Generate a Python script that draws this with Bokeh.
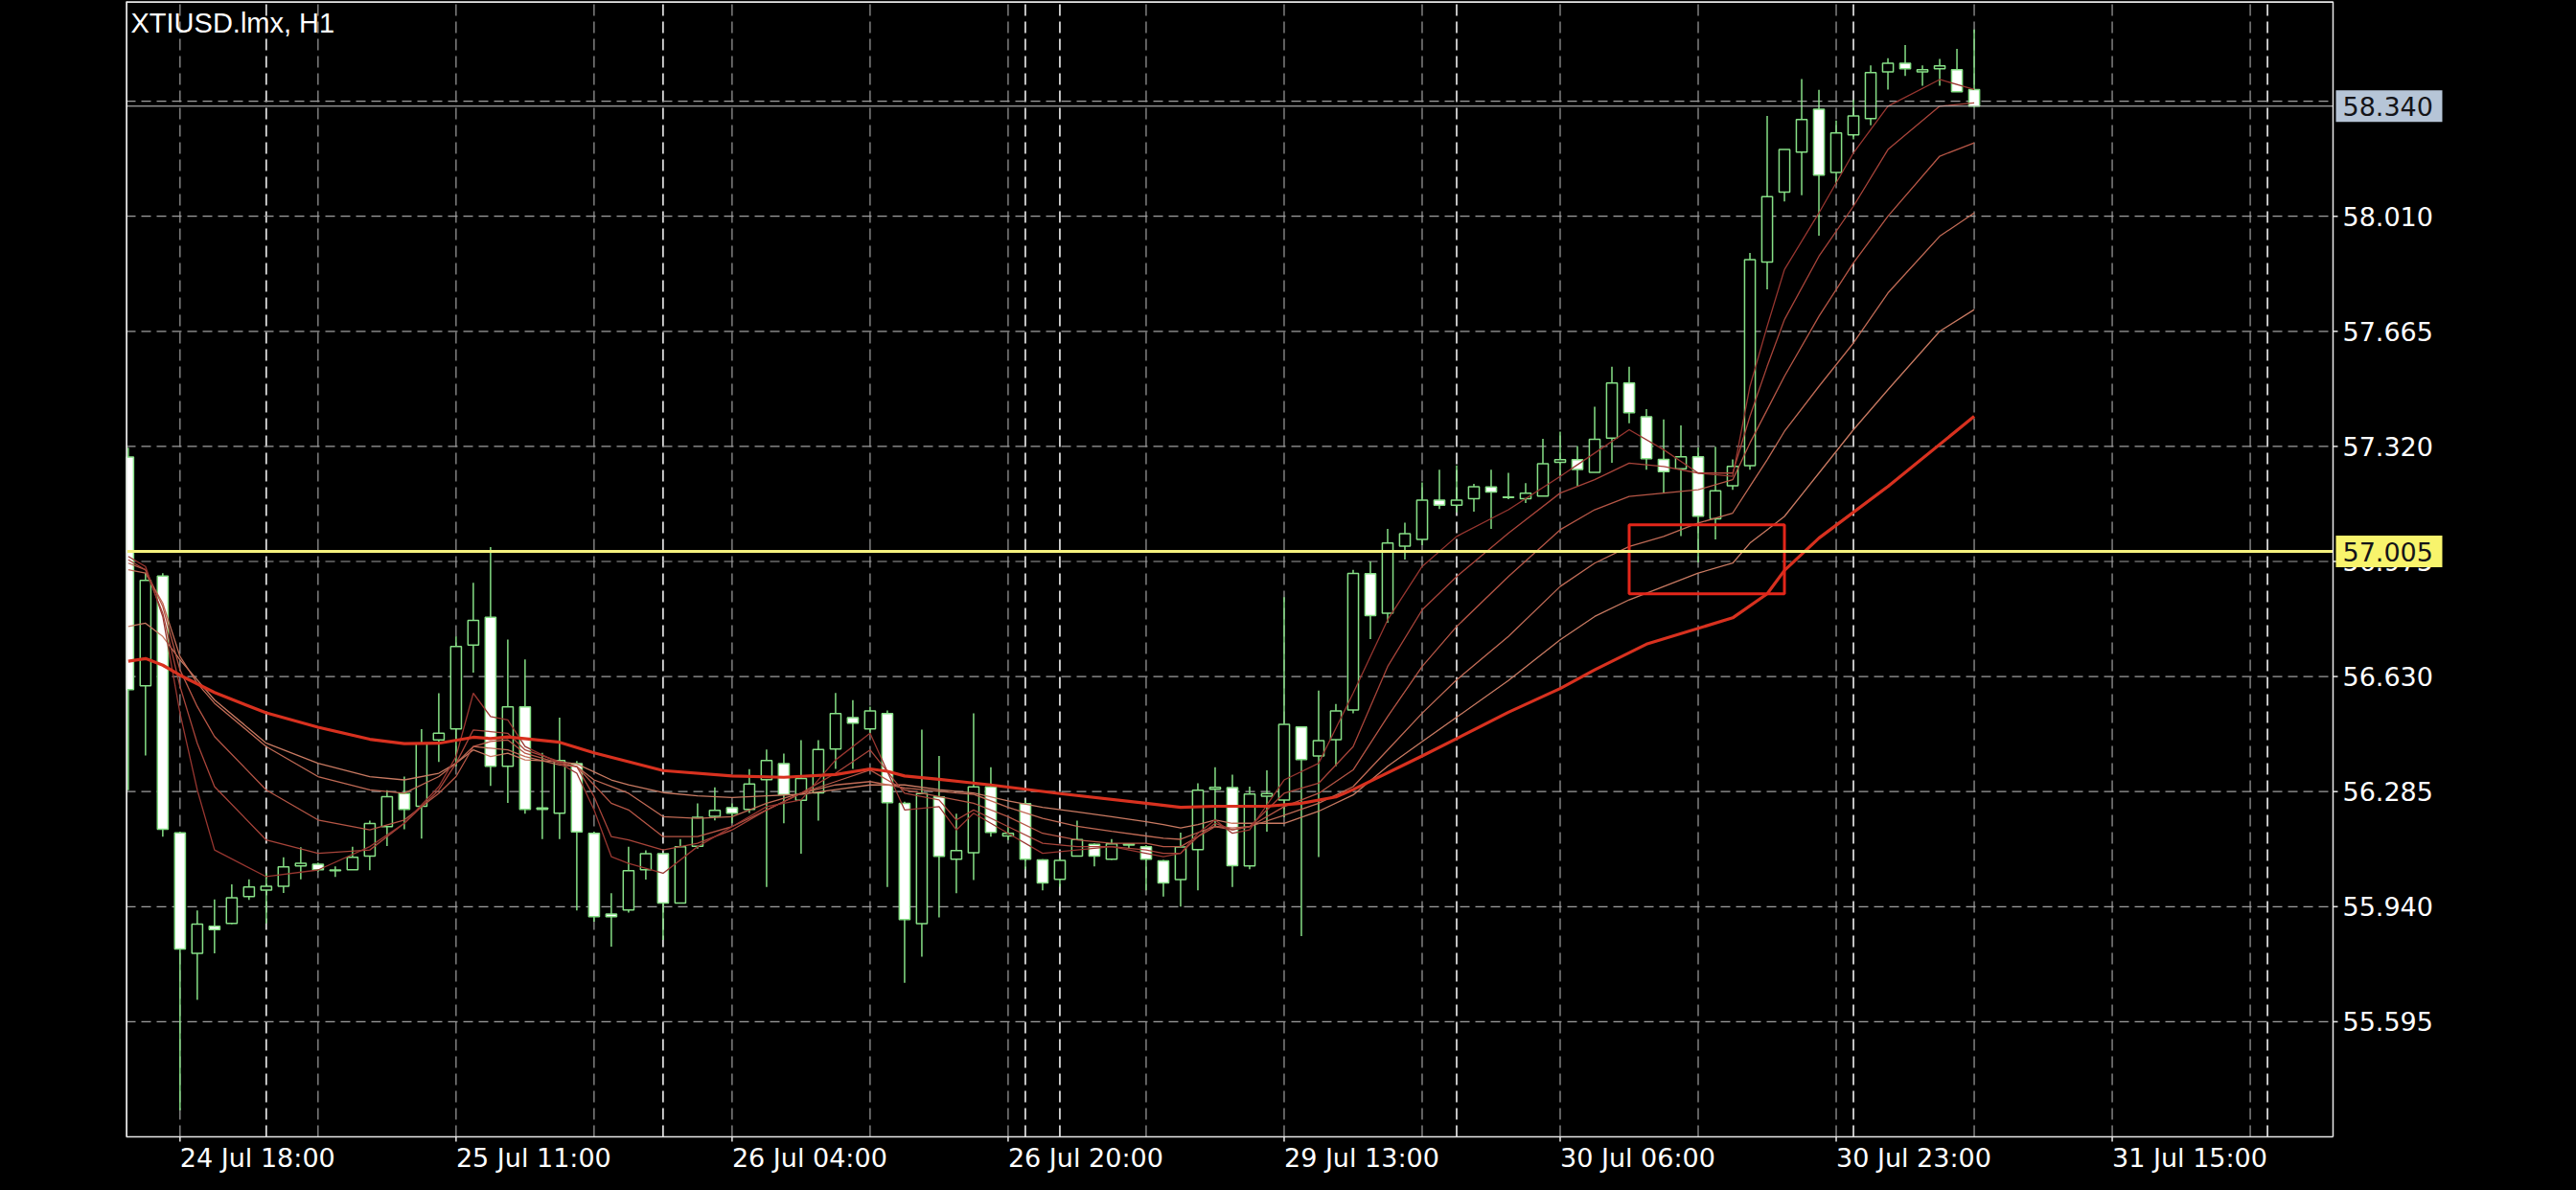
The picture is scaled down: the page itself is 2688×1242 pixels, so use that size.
from bokeh.plotting import figure
from bokeh.models import Range1d, Label
from bokeh.embed import file_html
from bokeh.resources import INLINE
from bokeh.core.properties import value

# ---------------- data ----------------
title_text = "XTIUSD.lmx, H1"

bar = list(range(108))
opens = [57.288, 56.602, 56.931, 56.161, 55.800, 55.881, 55.890, 55.970, 55.990, 56.001,
         56.062, 56.067, 56.048, 56.051, 56.092, 56.180, 56.279, 56.241, 56.440, 56.473,
         56.724, 56.808, 56.361, 56.539, 56.232, 56.220, 56.369, 56.160, 55.918, 55.930,
         56.051, 56.099, 55.951, 56.121, 56.211, 56.237, 56.232, 56.321, 56.369, 56.259,
         56.281, 56.413, 56.507, 56.473, 56.519, 56.250, 55.889, 56.269, 56.082, 56.102,
         56.299, 56.152, 56.249, 56.080, 56.022, 56.092, 56.127, 56.082, 56.125, 56.120,
         56.077, 56.021, 56.111, 56.292, 56.297, 56.062, 56.271, 56.260, 56.479, 56.392,
         56.441, 56.530, 56.938, 56.820, 57.021, 57.041, 57.159, 57.144, 57.163, 57.198,
         57.167, 57.163, 57.171, 57.272, 57.280, 57.242, 57.345, 57.510, 57.409, 57.281,
         57.253, 57.289, 57.103, 57.202, 57.262, 57.873, 58.082, 58.202, 58.331, 58.141,
         58.254, 58.303, 58.443, 58.469, 58.443, 58.452, 58.449, 58.390]
highs = [57.316, 56.940, 56.940, 56.165, 55.929, 55.962, 56.007, 56.022, 56.040, 56.088,
         56.118, 56.072, 56.061, 56.120, 56.198, 56.289, 56.330, 56.472, 56.580, 56.750,
         56.911, 57.018, 56.741, 56.681, 56.401, 56.507, 56.377, 56.165, 55.980, 56.120,
         56.109, 56.100, 56.143, 56.250, 56.298, 56.250, 56.352, 56.411, 56.399, 56.439,
         56.439, 56.581, 56.559, 56.540, 56.528, 56.255, 56.471, 56.392, 56.219, 56.520,
         56.358, 56.180, 56.260, 56.082, 56.085, 56.198, 56.130, 56.143, 56.130, 56.125,
         56.080, 56.162, 56.310, 56.358, 56.336, 56.300, 56.349, 56.868, 56.480, 56.588,
         56.548, 56.950, 56.975, 57.073, 57.091, 57.212, 57.250, 57.263, 57.208, 57.250,
         57.241, 57.210, 57.343, 57.364, 57.321, 57.439, 57.559, 57.559, 57.432, 57.401,
         57.383, 57.317, 57.319, 57.281, 57.900, 58.311, 58.210, 58.421, 58.389, 58.297,
         58.359, 58.462, 58.484, 58.523, 58.462, 58.482, 58.512, 58.570]
lows = [56.289, 56.393, 56.150, 55.330, 55.661, 55.800, 55.888, 55.960, 55.890, 55.981,
        56.022, 56.045, 56.029, 56.050, 56.049, 56.122, 56.172, 56.144, 56.374, 56.361,
        56.642, 56.302, 56.251, 56.219, 56.143, 56.143, 55.929, 55.895, 55.820, 55.922,
        56.021, 55.840, 55.951, 56.114, 56.199, 56.190, 56.221, 55.999, 56.190, 56.099,
        56.198, 56.353, 56.353, 56.460, 55.999, 55.712, 55.790, 55.908, 55.980, 56.020,
        56.150, 56.140, 56.052, 55.989, 56.000, 56.090, 56.061, 56.080, 56.114, 55.989,
        55.970, 55.940, 55.989, 56.181, 55.999, 56.052, 56.165, 56.208, 55.852, 56.089,
        56.361, 56.520, 56.742, 56.791, 56.981, 57.024, 57.132, 57.122, 57.124, 57.073,
        57.162, 57.150, 57.171, 57.232, 57.202, 57.242, 57.271, 57.389, 57.250, 57.181,
        57.051, 56.972, 57.041, 57.190, 57.250, 57.791, 58.054, 58.073, 57.952, 58.106,
        58.240, 58.283, 58.390, 58.431, 58.401, 58.401, 58.383, 58.335]
closes = [56.591, 56.918, 56.172, 55.813, 55.888, 55.871, 55.967, 55.999, 56.001, 56.059,
          56.070, 56.051, 56.050, 56.088, 56.189, 56.270, 56.232, 56.429, 56.460, 56.720,
          56.798, 56.361, 56.539, 56.232, 56.236, 56.378, 56.164, 55.910, 55.910, 56.048,
          56.099, 55.951, 56.120, 56.208, 56.229, 56.220, 56.308, 56.378, 56.276, 56.324,
          56.411, 56.519, 56.490, 56.527, 56.252, 55.901, 56.279, 56.091, 56.108, 56.299,
          56.163, 56.160, 56.082, 56.011, 56.079, 56.141, 56.092, 56.128, 56.128, 56.082,
          56.011, 56.119, 56.289, 56.298, 56.063, 56.278, 56.279, 56.487, 56.381, 56.438,
          56.527, 56.939, 56.813, 57.030, 57.058, 57.159, 57.144, 57.159, 57.199, 57.183,
          57.168, 57.180, 57.268, 57.280, 57.251, 57.341, 57.510, 57.421, 57.283, 57.244,
          57.289, 57.111, 57.187, 57.260, 57.880, 58.069, 58.210, 58.300, 58.133, 58.260,
          58.311, 58.441, 58.469, 58.452, 58.449, 58.461, 58.383, 58.340]

# moving-average lines (bar index, price)
ma_bars = [0, 1, 2, 3, 4, 5, 8, 11, 14, 16, 18, 19, 20, 21, 22, 23, 25, 26, 27, 28, 29,
           31, 33, 35, 37, 39, 41, 43, 45, 47, 48, 49, 51, 53, 55, 57, 59, 60, 61, 62, 63,
           64, 65, 67, 69, 71, 73, 75, 77, 80, 83, 85, 87, 89, 91, 93, 94, 95, 96, 98, 100,
           102, 105, 107]
ma_a = [56.99, 56.96, 56.81, 56.52, 56.29, 56.11, 56.03, 56.05, 56.12, 56.19, 56.30, 56.39,
        56.58, 56.51, 56.50, 56.42, 56.37, 56.34, 56.23, 56.09, 56.07, 56.04, 56.12, 56.18,
        56.24, 56.26, 56.38, 56.46, 56.23, 56.24, 56.17, 56.22, 56.16, 56.10, 56.11, 56.12,
        56.10, 56.09, 56.10, 56.16, 56.20, 56.16, 56.17, 56.32, 56.37, 56.58, 56.80, 56.96,
        57.05, 57.13, 57.23, 57.30, 57.37, 57.31, 57.24, 57.23, 57.50, 57.68, 57.85, 58.02,
        58.20, 58.34, 58.42, 58.39]
ma_b = [56.98, 56.95, 56.82, 56.60, 56.43, 56.30, 56.14, 56.10, 56.11, 56.19, 56.29, 56.37,
        56.47, 56.465, 56.46, 56.41, 56.375, 56.36, 56.27, 56.15, 56.14, 56.11, 56.13, 56.17,
        56.23, 56.28, 56.34, 56.41, 56.28, 56.26, 56.20, 56.23, 56.18, 56.13, 56.12, 56.12,
        56.11, 56.10, 56.10, 56.15, 56.19, 56.17, 56.18, 56.28, 56.31, 56.42, 56.66, 56.83,
        56.93, 57.06, 57.18, 57.22, 57.27, 57.26, 57.24, 57.24, 57.41, 57.56, 57.70, 57.89,
        58.04, 58.21, 58.34, 58.35]
ma_c = [56.97, 56.95, 56.84, 56.65, 56.54, 56.45, 56.29, 56.20, 56.17, 56.20, 56.28, 56.33,
        56.42, 56.435, 56.44, 56.40, 56.37, 56.36, 56.305, 56.25, 56.23, 56.15, 56.15, 56.18,
        56.23, 56.28, 56.315, 56.35, 56.29, 56.27, 56.26, 56.25, 56.21, 56.16, 56.14, 56.13,
        56.13, 56.12, 56.12, 56.15, 56.18, 56.17, 56.18, 56.24, 56.28, 56.35, 56.51, 56.66,
        56.78, 56.93, 57.07, 57.13, 57.17, 57.18, 57.19, 57.22, 57.33, 57.43, 57.53, 57.71,
        57.87, 58.01, 58.19, 58.23]
ma_d = [56.95, 56.94, 56.85, 56.69, 56.61, 56.55, 56.42, 56.33, 56.29, 56.28, 56.33, 56.37,
        56.42, 56.415, 56.41, 56.39, 56.365, 56.36, 56.32, 56.30, 56.28, 56.21, 56.205, 56.21,
        56.25, 56.28, 56.305, 56.315, 56.296, 56.286, 56.281, 56.277, 56.238, 56.205, 56.181,
        56.166, 56.152, 56.145, 56.142, 56.162, 56.181, 56.176, 56.18, 56.214, 56.25, 56.30,
        56.41, 56.52, 56.62, 56.75, 56.90, 56.97, 57.02, 57.05, 57.09, 57.12, 57.20, 57.28,
        57.365, 57.50, 57.63, 57.78, 57.95, 58.02]
ma_e = [56.78, 56.79, 56.75, 56.68, 56.62, 56.56, 56.43, 56.37, 56.33, 56.32, 56.34, 56.37,
        56.41, 56.39, 56.40, 56.38, 56.375, 56.368, 56.344, 56.32, 56.305, 56.282, 56.272,
        56.267, 56.272, 56.277, 56.291, 56.305, 56.305, 56.291, 56.286, 56.281, 56.257,
        56.238, 56.224, 56.21, 56.195, 56.186, 56.176, 56.186, 56.20, 56.19, 56.19, 56.19,
        56.226, 56.275, 56.361, 56.435, 56.508, 56.618, 56.74, 56.81, 56.86, 56.90, 56.94,
        56.97, 57.03, 57.07, 57.11, 57.24, 57.37, 57.49, 57.665, 57.73]
ma_slow_bars = [0, 1, 2, 3, 5, 8, 11, 14, 16, 18, 20, 21, 22, 25, 27, 31, 35, 38, 41, 43,
                44, 45, 47, 50, 54, 59, 61, 63, 66, 68, 70, 71, 75, 77, 80, 83, 85, 88, 93,
                95, 96, 98, 102, 107]
ma_slow = [56.676, 56.684, 56.664, 56.634, 56.582, 56.521, 56.478, 56.442, 56.429, 56.43,
           56.448, 56.444, 56.449, 56.433, 56.401, 56.348, 56.332, 56.328, 56.336, 56.353,
           56.346, 56.332, 56.322, 56.305, 56.279, 56.25, 56.238, 56.241, 56.241, 56.25,
           56.269, 56.291, 56.392, 56.444, 56.523, 56.594, 56.65, 56.727, 56.806, 56.878,
           56.948, 57.045, 57.20, 57.41]

tick_bars = [3, 19, 35, 51, 67, 83, 99, 115]
tick_labels = ["24 Jul 18:00", "25 Jul 11:00", "26 Jul 04:00", "26 Jul 20:00",
               "29 Jul 13:00", "30 Jul 06:00", "30 Jul 23:00", "31 Jul 15:00"]
grid_bars = [3, 11, 19, 27, 35, 43, 51, 59, 67, 75, 83, 91, 99, 107, 115, 123]
separator_bars = [8, 31, 52, 54, 77, 100, 124]
price_ticks = [55.595, 55.940, 56.285, 56.630, 56.975, 57.320, 57.665, 58.010]
price_tick_labels = ["55.595", "55.940", "56.285", "56.630", "56.975", "57.320",
                     "57.665", "58.010"]
grid_prices = [55.595, 55.940, 56.285, 56.630, 56.975, 57.320, 57.665, 58.010, 58.355]
bid_price = 58.340
level_price = 57.005
rect_bars = [87.0, 96.0]
rect_prices = [56.878, 57.085]

# ---------------- geometry ----------------
# chart pane: bars x_start..x_chart_end, prices y_chart_start..y_end;
# the price scale (right) and time scale (below) are drawn in the rest of the frame
PX = 18.0                                   # pixels per bar
x_start, x_chart_end = -0.13, 127.8
x_end = x_chart_end + 238.0 / PX
y_chart_start, y_end = 55.250, 58.654
PY = (y_end - y_chart_start) / 1185.0       # price per pixel
y_start = y_chart_start - 40 * PY

GREEN = "#86E086"
FONT = "DejaVu Sans"
BORDER = "#e8e8e8"

p = figure(width=2672, height=1226, output_backend="svg", toolbar_location=None,
           x_range=Range1d(x_start, x_end), y_range=Range1d(y_start, y_end),
           x_axis_location=None, y_axis_location=None,
           min_border_left=131, min_border_right=0, min_border_top=1, min_border_bottom=0)
p.background_fill_color = "black"
p.border_fill_color = "black"
p.outline_line_color = None
p.xgrid.grid_line_color = None
p.ygrid.grid_line_color = None

# vertical grid (chart pane only)
n = len(grid_bars)
p.segment(x0=grid_bars, y0=[y_chart_start] * n, x1=grid_bars, y1=[y_end] * n,
          line_color="#a0a0a0", line_dash="12 6", line_width=1.2)
m = len(separator_bars)
p.segment(x0=separator_bars, y0=[y_chart_start] * m, x1=separator_bars, y1=[y_end] * m,
          line_color="#f0f0f0", line_dash="12 6", line_width=1.6)

# horizontal grid (chart pane only)
g = len(grid_prices)
p.segment(x0=[x_start] * g, y0=grid_prices, x1=[x_chart_end] * g, y1=grid_prices,
          line_color="#a0a0a0", line_dash="10 6", line_width=1.2)

# candles
up = [c >= o for o, c in zip(opens, closes)]
body_top = [max(o, c) for o, c in zip(opens, closes)]
body_bot = [min(o, c) for o, c in zip(opens, closes)]
fills = ["black" if u else "white" for u in up]
p.segment(x0=bar, y0=lows, x1=bar, y1=highs, line_color=GREEN, line_width=1.5)
p.vbar(x=bar, top=body_top, bottom=body_bot, width=0.62, fill_color=fills,
       line_color=GREEN, line_width=1.5)

# moving averages
for vals, col in ((ma_e, "#C97A62"), (ma_d, "#C06A55"), (ma_c, "#B65646"),
                  (ma_b, "#A8443A"), (ma_a, "#983630")):
    p.line(ma_bars, vals, line_color=col, line_width=1.3)
p.line(ma_slow_bars, ma_slow, line_color="#D8311F", line_width=3.2)

# user rectangle
p.quad(left=[rect_bars[0]], right=[rect_bars[1]], bottom=[rect_prices[0]],
       top=[rect_prices[1]], fill_alpha=0, line_color="#E3261A", line_width=3)

# horizontal levels
p.segment(x0=[x_start], y0=[bid_price], x1=[x_chart_end], y1=[bid_price],
          line_color="#cfcfcf", line_width=1)
p.segment(x0=[x_start], y0=[level_price], x1=[x_chart_end], y1=[level_price],
          line_color="#F6F27E", line_width=3)

# chart pane border
p.segment(x0=[x_start, x_start, x_start, x_chart_end],
          y0=[y_chart_start, y_end, y_chart_start, y_chart_start],
          x1=[x_chart_end, x_chart_end, x_start, x_chart_end],
          y1=[y_chart_start, y_end, y_end, y_end],
          line_color=BORDER, line_width=1.5)
p.segment(x0=[x_start], y0=[y_end], x1=[x_chart_end], y1=[y_end],
          line_color=BORDER, line_width=3)
p.segment(x0=[x_start], y0=[y_chart_start], x1=[x_start], y1=[y_end],
          line_color=BORDER, line_width=3)

# time scale: ticks and labels
t = len(tick_bars)
p.segment(x0=tick_bars, y0=[y_chart_start] * t, x1=tick_bars,
          y1=[y_chart_start - 5 * PY] * t, line_color=BORDER, line_width=1.5)
p.text(x=tick_bars, y=[y_chart_start - 6 * PY] * t, text=tick_labels,
       text_font=value(FONT), text_font_size="27px", text_color="white",
       text_align="left", text_baseline="top")

# price scale: ticks and labels
k = len(price_ticks)
p.segment(x0=[x_chart_end] * k, y0=price_ticks, x1=[x_chart_end + 5 / PX] * k,
          y1=price_ticks, line_color=BORDER, line_width=1.5)
p.text(x=[x_chart_end + 10 / PX] * k, y=price_ticks, text=price_tick_labels,
       text_font=value(FONT), text_font_size="27px", text_color="white",
       text_align="left", text_baseline="middle")

# price boxes
box_left = x_chart_end + 3 / PX
box_right = x_chart_end + 114 / PX
half_h = 16.5 * PY
box_prices = [bid_price, level_price]
box_texts = [f"{bid_price:.3f}", f"{level_price:.3f}"]
p.quad(left=[box_left] * 2, right=[box_right] * 2,
       bottom=[v - half_h for v in box_prices], top=[v + half_h for v in box_prices],
       fill_color=["#B6C5D7", "#F8F46C"], line_color=None)
p.text(x=[x_chart_end + 10 / PX] * 2, y=box_prices, text=box_texts,
       text_font=value(FONT), text_font_size="27px", text_color="#141418",
       text_align="left", text_baseline="middle")

# chart title inside the pane
p.add_layout(Label(x=x_start, y=y_end, text=title_text, x_offset=5, y_offset=-6,
                   text_align="left", text_baseline="top", text_font="Liberation Sans",
                   text_font_size="29px", text_color="white"))

html = file_html(p, INLINE)
html = html.replace("</head>", "<style>html,body{background:#000000;}</style></head>", 1)
open("out.html", "w").write(html)
